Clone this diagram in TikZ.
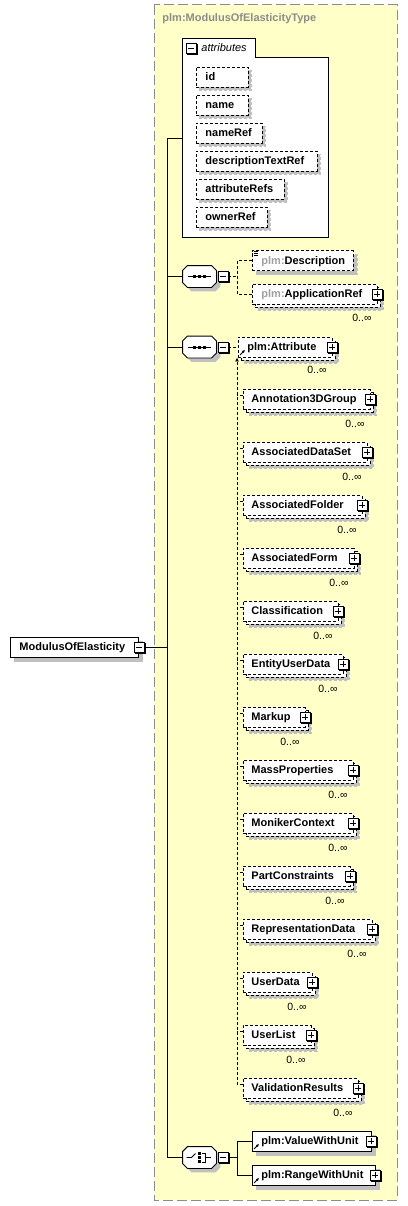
\documentclass[tikz,border=0pt]{standalone}
\usepackage{fontspec}
\setmainfont{Liberation Sans}
\usetikzlibrary{arrows.meta}
\usetikzlibrary{positioning}
\usetikzlibrary{shadows}

\definecolor{typefill}{HTML}{FFFFC8}
\definecolor{typeline}{HTML}{8C8C8C}
\definecolor{shadowgray}{HTML}{C0C0C0}
\definecolor{nsgray}{HTML}{A0A0A0}

\newcommand{\xsdfont}{\fontsize{11}{13}\selectfont}
\newcommand{\octpath}[1]{([yshift=-5pt]#1.north west) -- ([xshift=5pt]#1.north west)
  -- ([xshift=-5pt]#1.north east) -- ([yshift=-5pt]#1.north east)
  -- ([yshift=5pt]#1.south east) -- ([xshift=-5pt]#1.south east)
  -- ([xshift=5pt]#1.south west) -- ([yshift=5pt]#1.south west) -- cycle}

\tikzset{
  xsdbox/.style={draw, fill=white, anchor=west, inner xsep=8pt, inner ysep=0pt,
                 minimum height=20pt, text height=10pt, text depth=2.5pt,
                 align=left, font=\xsdfont\bfseries},
  elembox/.style={xsdbox, drop shadow={shadow xshift=4pt, shadow yshift=-4pt,
                  fill=shadowgray, draw=shadowgray, opacity=1}},
  optbox/.style={elembox, dash pattern=on 3pt off 2pt},
  manybox/.style={xsdbox, dash pattern=on 3pt off 2pt,
                  drop shadow={shadow xshift=6pt, shadow yshift=-6pt,
                  fill=shadowgray, draw=shadowgray, opacity=1},
                  copy shadow={shadow xshift=3pt, shadow yshift=-3pt}},
  attrbox/.style={xsdbox, inner xsep=9pt, dash pattern=on 3pt off 2pt,
                  drop shadow={shadow xshift=3pt, shadow yshift=-3pt,
                  fill=shadowgray, draw=shadowgray, opacity=1}},
  expander/.style={draw, fill=white, minimum size=10pt, inner sep=0pt,
                   line width=.8pt,
                   drop shadow={shadow xshift=1pt, shadow yshift=-1pt,
                   fill=black, draw=black, opacity=1}},
  minusicon/.style={expander, path picture={
      \draw ([xshift=2pt]path picture bounding box.west)
         -- ([xshift=-2pt]path picture bounding box.east);}},
  plusicon/.style={expander, path picture={
      \draw ([xshift=2pt]path picture bounding box.west)
         -- ([xshift=-2pt]path picture bounding box.east)
            ([yshift=-2pt]path picture bounding box.north)
         -- ([yshift=2pt]path picture bounding box.south);}},
  compsym/.style={minimum width=33pt, minimum height=21pt, inner sep=0pt},
  multlabel/.style={font=\fontsize{10.5}{12}\selectfont, inner sep=0pt},
  optline/.style={dash pattern=on 3pt off 2pt},
  refarrow/.style={line width=.9pt, -{Latex[length=3pt,width=3pt]}},
}

\begin{document}
\begin{tikzpicture}[x=1pt, y=-1pt, line width=.9pt]
  \useasboundingbox (0,0) rectangle (407,1206);

  \draw[typeline, fill=typefill, line width=1pt, dash pattern=on 10pt off 4pt]
    (154,5) rectangle (397,1200);
  \node[anchor=west, inner sep=0pt, text=typeline, font=\xsdfont\bfseries]
    (typename) at (162,19) {plm:ModulusOfElasticityType};

  % attributes
  \path[draw, fill=white] (182,38) -| (255,57) -| (328,237) -| cycle;
  \node[minusicon] (attrs-x) at (191,48) {};
  \node[anchor=west, inner sep=0pt, font=\xsdfont\itshape] (attrs-label) at (201,48) {attributes};
  \coordinate (attrs) at (182,138);
  \foreach \n/\w [count=\i] in {id/52, name/52, nameRef/66, descriptionTextRef/121,
                                attributeRefs/88, ownerRef/71}
  {
    \pgfmathsetmacro\tw{\w-18}
    \node[attrbox, text width=\tw pt] (a\i) at (196,{77+28*(\i-1)}) {\mbox{\n}};
  }

  \node[elembox, inner xsep=9pt, text width=110pt] (mod) at (10,647) {ModulusOfElasticity};
  \node[minusicon] (mod-x) at (mod.east) {};

  % compositors
  \node[compsym] (seqA) at (199.5,276.5) {};
  \node[compsym] (seqB) at (199.5,347) {};
  \node[compsym] (choice) at (199.5,1157.5) {};
  \foreach \s in {seqA, seqB, choice}
  {
    \fill[shadowgray, transform canvas={shift={(4pt,-4pt)}}] \octpath{\s};
    \draw[fill=white] \octpath{\s};
    \node[minusicon] (\s-x) at ([xshift=6.5pt]\s.east) {};
  }
  \foreach \s in {seqA, seqB}
  {
    \draw ([xshift=5pt]\s.west) -- ([xshift=-5pt]\s.east);
    \foreach \dx in {-5,0,5}
      \fill ([xshift=\dx pt]\s.center) +(-1.5,-1.5) rectangle +(1.5,1.5);
  }
  \draw ([xshift=-13pt]choice.center) -- ([xshift=-8pt]choice.center)
     -- ([shift={(-4pt,4pt)}]choice.center);
  \foreach \dy in {-4,0,4}
    \fill ([yshift=\dy pt]choice.center) +(-1.5,-1.3) rectangle +(1.5,1.3);
  \draw ([shift={(2.5pt,4.5pt)}]choice.center) -| ([shift={(5.5pt,-4.5pt)}]choice.center)
     -- ([shift={(2.5pt,-4.5pt)}]choice.center);
  \draw ([xshift=5.5pt]choice.center) -- ([xshift=11pt]choice.center);

  % first sequence
  \node[optbox, inner xsep=9pt, text width=83pt] (desc) at (252,260.5)
    {\mbox{\textcolor{nsgray}{plm:}Description}};
  \foreach \dy in {0,2,4}
    \draw[line width=.6pt] ([shift={(1.5pt,-1.5pt-\dy pt)}]desc.north west) -- ++(4pt,0pt);
  \node[manybox, inner xsep=9pt, text width=106.5pt] (appref) at (252,294)
    {\mbox{\textcolor{nsgray}{plm:}ApplicationRef}};
  \node[plusicon] (appref-x) at (appref.east) {};
  \node[multlabel] (appref-m) at ([xshift=-15.5pt,yshift=-13pt]appref.south east) {0..∞};

  % second sequence
  \node[manybox, inner xsep=9pt, text width=75.5pt] (att) at (238,347) {plm:Attribute};
  \node[plusicon] (att-x) at (att.east) {};
  \node[multlabel] (att-m) at ([xshift=-15.5pt,yshift=-12pt]att.south east) {0..∞};
  \foreach \n/\w [count=\i] in {Annotation3DGroup/126.5, AssociatedDataSet/123.5,
      AssociatedFolder/118.5, AssociatedForm/110.5, Classification/94.5,
      EntityUserData/99.5, Markup/61.5, MassProperties/109.5, MonikerContext/109.5,
      PartConstraints/106.5, RepresentationData/128.5, UserData/68.5,
      UserList/67.5, ValidationResults/114.5}
  {
    \pgfmathsetmacro\tw{\w-16}
    \node[manybox, text width=\tw pt] (e\i) at (243,{399+53*(\i-1)}) {\mbox{\n}};
    \node[plusicon] (e\i-x) at (e\i.east) {};
    \node[multlabel] (e\i-m) at ([xshift=-15.5pt,yshift=-14pt]e\i.south east) {0..∞};
    \coordinate (t\i) at ([yshift=4pt]e\i.west);
  }

  % choice
  \node[elembox, inner xsep=9pt, text width=100.5pt] (vwu) at (252,1141) {plm:ValueWithUnit};
  \node[plusicon] (vwu-x) at (vwu.east) {};
  \node[elembox, inner xsep=9pt, text width=104.5pt] (rwu) at (252,1175) {plm:RangeWithUnit};
  \node[plusicon] (rwu-x) at (rwu.east) {};
  \foreach \r in {att, vwu, rwu}
    \draw[refarrow] ([shift={(2pt,2.5pt)}]\r.south west) -- ++(5pt,5pt);

  % connectors
  \coordinate (trunk) at (167,138);
  \draw (attrs) -- (trunk) |- (choice.west);
  \draw (seqA.west) -- (seqA.west -| trunk);
  \draw (seqB.west) -- (seqB.west -| trunk);
  \draw (mod-x.east) -- (mod-x.east -| trunk);

  \coordinate (seqA-j) at ([xshift=9pt]seqA-x.east);
  \draw[optline] (seqA-x.east) -- (seqA-j);
  \draw[optline] (desc.west) -| (seqA-j) |- (appref.west);
  \draw[optline] (seqB-x.east) -- (att.west);

  \coordinate (subst) at ([xshift=-1pt]att.south west);
  \draw[optline, -{Latex[length=4pt,width=4pt]}] (t14) -| (subst);
  \foreach \i in {1,...,13}
    \draw[optline] (t\i) -- (t\i -| subst);

  \coordinate (choice-j) at ([xshift=9pt]choice-x.east);
  \draw (choice-x.east) -- (choice-j);
  \draw (vwu.west) -| (choice-j) |- (rwu.west);
\end{tikzpicture}
\end{document}
